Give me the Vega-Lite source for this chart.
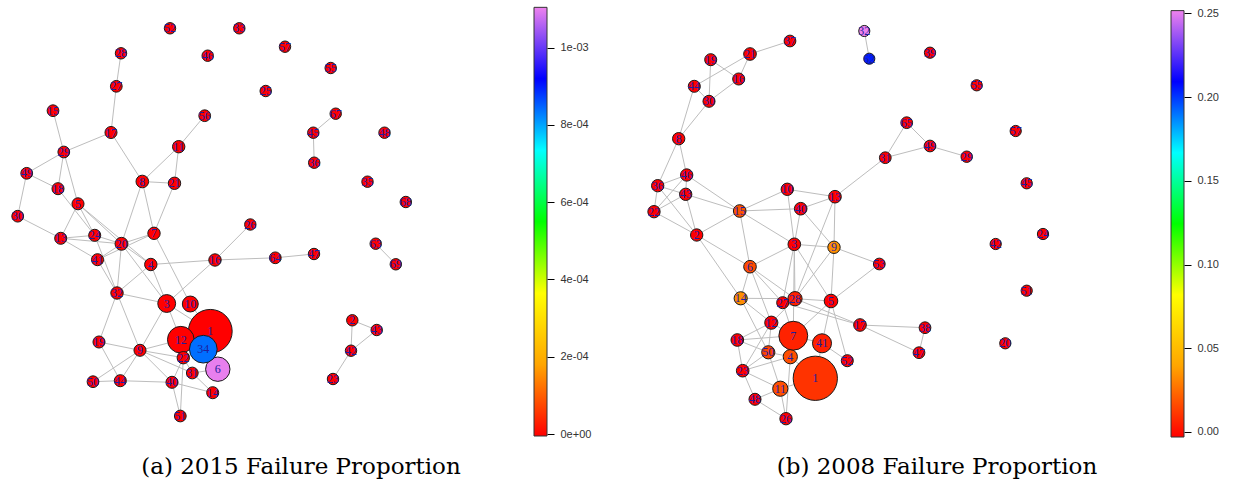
{
"$schema": "https://vega.github.io/schema/vega-lite/v6.json",
"padding": 0,
"bounds": "flush",
"spacing": 0,
"background": "white",
"config": {"view": {"stroke": null}},
"resolve": {"scale": {"color": "independent", "size": "independent", "x": "independent", "y": "independent"}},
"datasets": {
"nodesA": [
{"id":1,"x":210.3,"y":331.3,"c":13.2,"f":0},
{"id":2,"x":352.3,"y":320.3,"c":0.9,"f":0},
{"id":3,"x":166.7,"y":303.5,"c":2.2,"f":0},
{"id":4,"x":150.8,"y":264.5,"c":1.06,"f":0},
{"id":5,"x":78,"y":203.8,"c":1,"f":0},
{"id":6,"x":217.8,"y":369.2,"c":4.1,"f":0.0011},
{"id":7,"x":154,"y":233.3,"c":1.06,"f":0},
{"id":8,"x":142.3,"y":181.5,"c":1.1,"f":0},
{"id":9,"x":140,"y":350.3,"c":1,"f":0},
{"id":10,"x":190.3,"y":304,"c":1.75,"f":0},
{"id":11,"x":178.7,"y":146.7,"c":1.06,"f":0},
{"id":12,"x":180.8,"y":339.7,"c":4.9,"f":0},
{"id":13,"x":60.7,"y":238.3,"c":1,"f":0},
{"id":14,"x":212.7,"y":392.7,"c":1,"f":0},
{"id":15,"x":53,"y":110.7,"c":0.95,"f":0},
{"id":16,"x":215,"y":260,"c":1.06,"f":0},
{"id":17,"x":111,"y":132.5,"c":1,"f":0},
{"id":18,"x":58,"y":188.7,"c":1,"f":0},
{"id":19,"x":99,"y":342,"c":1,"f":0},
{"id":20,"x":121.5,"y":243.8,"c":1.15,"f":0},
{"id":21,"x":174.5,"y":183.3,"c":1.06,"f":0},
{"id":22,"x":183.3,"y":357.7,"c":1.06,"f":0},
{"id":23,"x":333,"y":379,"c":0.9,"f":0},
{"id":24,"x":94.7,"y":235.3,"c":1,"f":0},
{"id":25,"x":265.7,"y":91,"c":0.9,"f":0},
{"id":26,"x":250.3,"y":224.5,"c":0.9,"f":0},
{"id":27,"x":116.3,"y":86.3,"c":0.95,"f":0},
{"id":28,"x":121,"y":53.3,"c":0.9,"f":0},
{"id":29,"x":63.8,"y":152,"c":0.95,"f":0},
{"id":30,"x":17.7,"y":216.2,"c":0.95,"f":0},
{"id":31,"x":192.3,"y":373,"c":0.95,"f":0},
{"id":32,"x":117,"y":293,"c":1.06,"f":0},
{"id":33,"x":239.3,"y":28.3,"c":0.9,"f":0},
{"id":34,"x":203.3,"y":349.2,"c":5.3,"f":0.00084},
{"id":35,"x":367.5,"y":181.7,"c":0.9,"f":0},
{"id":36,"x":314.2,"y":162.7,"c":0.9,"f":0},
{"id":40,"x":172,"y":382.3,"c":1,"f":0},
{"id":41,"x":97.5,"y":259.7,"c":1,"f":0},
{"id":42,"x":351,"y":350.7,"c":0.9,"f":0},
{"id":43,"x":376.7,"y":330,"c":0.9,"f":0},
{"id":44,"x":120.3,"y":380.7,"c":1,"f":0},
{"id":45,"x":313.3,"y":132.7,"c":0.9,"f":0},
{"id":46,"x":207.7,"y":55.7,"c":0.9,"f":0},
{"id":47,"x":314,"y":254,"c":0.9,"f":0},
{"id":48,"x":384.5,"y":132.7,"c":0.9,"f":0},
{"id":49,"x":26.7,"y":173.3,"c":0.95,"f":0},
{"id":50,"x":93,"y":381.7,"c":0.95,"f":0},
{"id":51,"x":180.3,"y":416,"c":0.95,"f":0},
{"id":52,"x":170,"y":28.3,"c":0.9,"f":0},
{"id":55,"x":330.7,"y":68,"c":0.9,"f":0},
{"id":56,"x":204.7,"y":115.7,"c":0.95,"f":0},
{"id":57,"x":285,"y":46.7,"c":0.9,"f":0},
{"id":63,"x":375.7,"y":243.7,"c":0.9,"f":0},
{"id":64,"x":275.3,"y":257.8,"c":0.95,"f":0},
{"id":67,"x":335.7,"y":113.7,"c":0.9,"f":0},
{"id":68,"x":405.8,"y":202,"c":0.9,"f":0},
{"id":69,"x":395.8,"y":264.3,"c":0.9,"f":0}
],
"edgesA": [
{"s":28,"t":27},{"s":27,"t":17},{"s":15,"t":29},{"s":29,"t":17},{"s":17,"t":8},{"s":56,"t":11},{"s":11,"t":8},{"s":11,"t":21},{"s":8,"t":21},{"s":67,"t":45},{"s":45,"t":36},{"s":29,"t":49},{"s":29,"t":18},{"s":29,"t":5},{"s":49,"t":18},{"s":49,"t":30},{"s":18,"t":24},{"s":5,"t":13},{"s":5,"t":24},{"s":5,"t":20},{"s":5,"t":4},{"s":30,"t":13},{"s":13,"t":24},{"s":13,"t":20},{"s":24,"t":20},{"s":13,"t":41},{"s":24,"t":32},{"s":41,"t":20},{"s":41,"t":32},{"s":20,"t":32},{"s":20,"t":7},{"s":20,"t":4},{"s":20,"t":3},{"s":8,"t":20},{"s":8,"t":7},{"s":21,"t":7},{"s":7,"t":41},{"s":7,"t":10},{"s":4,"t":16},{"s":16,"t":26},{"s":16,"t":64},{"s":64,"t":47},{"s":16,"t":3},{"s":4,"t":32},{"s":4,"t":3},{"s":32,"t":3},{"s":32,"t":19},{"s":32,"t":9},{"s":3,"t":9},{"s":3,"t":1},{"s":10,"t":1},{"s":3,"t":12},{"s":63,"t":69},{"s":2,"t":43},{"s":2,"t":42},{"s":43,"t":42},{"s":42,"t":23},{"s":19,"t":9},{"s":19,"t":44},{"s":9,"t":50},{"s":9,"t":44},{"s":9,"t":22},{"s":9,"t":12},{"s":9,"t":40},{"s":9,"t":31},{"s":50,"t":44},{"s":44,"t":40},{"s":40,"t":22},{"s":40,"t":51},{"s":22,"t":51},{"s":40,"t":14},{"s":31,"t":14},{"s":22,"t":31},{"s":12,"t":1},{"s":34,"t":1},{"s":6,"t":34},{"s":22,"t":34},{"s":31,"t":6}
],
"nodesB": [
{"id":1,"x":815.3,"y":378.3,"c":13.5,"f":0.013},
{"id":2,"x":696.7,"y":235,"c":1.05,"f":0},
{"id":3,"x":794.3,"y":244.3,"c":1.1,"f":0},
{"id":4,"x":790.3,"y":356.7,"c":1.4,"f":0.02},
{"id":5,"x":831,"y":301,"c":1.28,"f":0},
{"id":6,"x":750,"y":266.7,"c":1.1,"f":0.019},
{"id":7,"x":793.3,"y":335.7,"c":5.75,"f":0.0086},
{"id":8,"x":678.7,"y":138.7,"c":1.05,"f":0},
{"id":9,"x":834,"y":247.3,"c":1.06,"f":0.036},
{"id":10,"x":787.3,"y":189.3,"c":1.06,"f":0},
{"id":11,"x":780.3,"y":388.7,"c":1.6,"f":0.02},
{"id":12,"x":771.3,"y":322.7,"c":1.2,"f":0},
{"id":13,"x":835,"y":196.7,"c":1.1,"f":0},
{"id":14,"x":740.7,"y":298.3,"c":1.2,"f":0.036},
{"id":15,"x":739.7,"y":211,"c":1.1,"f":0.021},
{"id":16,"x":738.7,"y":79,"c":1,"f":0},
{"id":17,"x":860,"y":325,"c":1.1,"f":0},
{"id":18,"x":737.3,"y":340,"c":1.1,"f":0},
{"id":19,"x":710.7,"y":59.7,"c":1,"f":0},
{"id":20,"x":1005.3,"y":343.3,"c":0.87,"f":0},
{"id":21,"x":750,"y":54,"c":1.1,"f":0},
{"id":22,"x":654,"y":211.7,"c":1.05,"f":0},
{"id":23,"x":742.7,"y":370.7,"c":1.1,"f":0},
{"id":24,"x":1043,"y":234,"c":0.87,"f":0},
{"id":26,"x":786,"y":418.7,"c":1.05,"f":0},
{"id":27,"x":782.7,"y":302.7,"c":1,"f":0},
{"id":28,"x":795,"y":298.7,"c":1.4,"f":0.008},
{"id":29,"x":966.7,"y":156.7,"c":0.9,"f":0},
{"id":30,"x":709,"y":101.3,"c":1,"f":0},
{"id":31,"x":885.3,"y":157.7,"c":0.95,"f":0},
{"id":32,"x":864.3,"y":31,"c":0.85,"f":0.2516},
{"id":36,"x":657.7,"y":185.7,"c":1.05,"f":0},
{"id":37,"x":790,"y":41,"c":0.95,"f":0},
{"id":38,"x":925,"y":327.7,"c":0.95,"f":0},
{"id":39,"x":930,"y":52.7,"c":0.87,"f":0},
{"id":40,"x":800.7,"y":208.7,"c":1.1,"f":0},
{"id":41,"x":822,"y":343.3,"c":2.5,"f":0.008},
{"id":42,"x":995.7,"y":244,"c":0.87,"f":0},
{"id":43,"x":685.7,"y":194.3,"c":1.05,"f":0},
{"id":44,"x":694.3,"y":86.3,"c":1,"f":0},
{"id":45,"x":1026.7,"y":183.3,"c":0.87,"f":0},
{"id":46,"x":686.7,"y":175,"c":1.05,"f":0},
{"id":47,"x":919,"y":352.7,"c":0.95,"f":0},
{"id":48,"x":755,"y":399.3,"c":1,"f":0},
{"id":49,"x":930,"y":146,"c":0.95,"f":0},
{"id":50,"x":768.3,"y":352.3,"c":1.2,"f":0.017},
{"id":51,"x":1026.7,"y":290.7,"c":0.87,"f":0},
{"id":52,"x":847.3,"y":360.7,"c":1,"f":0},
{"id":53,"x":879.3,"y":264,"c":0.95,"f":0},
{"id":55,"x":976.7,"y":85.3,"c":0.87,"f":0},
{"id":57,"x":1015.7,"y":131,"c":0.87,"f":0},
{"id":62,"x":869.3,"y":58.7,"c":0.85,"f":0.205},
{"id":65,"x":906.7,"y":122.7,"c":0.95,"f":0}
],
"edgesB": [
{"s":32,"t":62},{"s":37,"t":21},{"s":21,"t":44},{"s":21,"t":16},{"s":19,"t":16},{"s":19,"t":30},{"s":44,"t":30},{"s":30,"t":16},{"s":44,"t":8},{"s":30,"t":8},{"s":8,"t":36},{"s":8,"t":46},{"s":65,"t":31},{"s":65,"t":49},{"s":31,"t":49},{"s":49,"t":29},{"s":31,"t":13},{"s":46,"t":36},{"s":46,"t":43},{"s":46,"t":22},{"s":36,"t":43},{"s":36,"t":22},{"s":43,"t":22},{"s":36,"t":2},{"s":43,"t":2},{"s":46,"t":15},{"s":43,"t":15},{"s":22,"t":2},{"s":2,"t":15},{"s":15,"t":10},{"s":15,"t":40},{"s":15,"t":3},{"s":15,"t":6},{"s":10,"t":13},{"s":10,"t":3},{"s":40,"t":13},{"s":40,"t":3},{"s":40,"t":9},{"s":13,"t":9},{"s":13,"t":28},{"s":3,"t":9},{"s":9,"t":53},{"s":3,"t":6},{"s":2,"t":6},{"s":2,"t":14},{"s":6,"t":14},{"s":6,"t":28},{"s":6,"t":12},{"s":6,"t":27},{"s":3,"t":28},{"s":3,"t":7},{"s":3,"t":5},{"s":3,"t":27},{"s":9,"t":5},{"s":9,"t":28},{"s":5,"t":53},{"s":5,"t":28},{"s":5,"t":41},{"s":5,"t":7},{"s":5,"t":52},{"s":14,"t":28},{"s":14,"t":12},{"s":14,"t":50},{"s":28,"t":17},{"s":27,"t":17},{"s":28,"t":12},{"s":27,"t":7},{"s":17,"t":38},{"s":17,"t":47},{"s":38,"t":47},{"s":12,"t":18},{"s":12,"t":23},{"s":12,"t":50},{"s":18,"t":50},{"s":18,"t":23},{"s":18,"t":7},{"s":50,"t":4},{"s":50,"t":11},{"s":50,"t":23},{"s":23,"t":48},{"s":23,"t":4},{"s":23,"t":11},{"s":48,"t":11},{"s":48,"t":26},{"s":26,"t":11},{"s":26,"t":4},{"s":7,"t":41},{"s":7,"t":4},{"s":41,"t":1},{"s":41,"t":52},{"s":4,"t":1},{"s":11,"t":1},{"s":12,"t":7}
]
},
"hconcat": [
{
"width": 534, "height": 440,
"title": {"text": "(a) 2015 Failure Proportion", "orient": "bottom", "anchor": "middle", "dx": 34, "offset": 16, "baseline": "top", "font": "DejaVu Serif", "fontSize": 23, "fontWeight": "normal", "color": "#000000"},
"layer": [
{"data": {"name": "edgesA"},
"transform": [
{"lookup": "s", "from": {"data": {"name": "nodesA"}, "key": "id", "fields": ["x", "y"]}, "as": ["xs", "ys"]},
{"lookup": "t", "from": {"data": {"name": "nodesA"}, "key": "id", "fields": ["x", "y"]}, "as": ["xt", "yt"]}
],
"mark": {"type": "rule", "color": "#BDBDBD", "strokeWidth": 1},
"encoding": {
"x": {"field": "xs", "type": "quantitative", "scale": {"domain": [0, 534], "nice": false, "zero": false}, "axis": null},
"y": {"field": "ys", "type": "quantitative", "scale": {"domain": [0, 440], "nice": false, "zero": false, "reverse": true}, "axis": null},
"x2": {"field": "xt"}, "y2": {"field": "yt"}
}},
{"data": {"name": "nodesA"},
"mark": {"type": "circle", "opacity": 1, "stroke": "#1a1a1a", "strokeWidth": 1},
"encoding": {
"x": {"field": "x", "type": "quantitative", "axis": null},
"y": {"field": "y", "type": "quantitative", "axis": null},
"size": {"field": "c", "type": "quantitative", "scale": {"domain": [0, 1], "range": [0, 145]}, "legend": null},
"color": {"field": "f", "type": "quantitative", "legend": null, "scale": {"interpolate": "rgb", "domain": [0, 0.00018408, 0.00036817, 0.00055225, 0.00073633, 0.00092042, 0.0011045], "range": ["#FF0000", "#FFA500", "#FFFF00", "#00FF00", "#00FFFF", "#0000FF", "#EE82EE"]}}
}},
{"data": {"name": "nodesA"},
"mark": {"type": "text", "font": "Liberation Serif", "fontSize": 12, "color": "#1E1EA0", "align": "center", "baseline": "middle"},
"encoding": {
"x": {"field": "x", "type": "quantitative", "axis": null},
"y": {"field": "y", "type": "quantitative", "axis": null},
"text": {"field": "id"}
}}
]
},
{
"width": 13, "height": 440,
"data": {"values": [{"lo": -0.0000052, "hi": 0.0011045}]},
"mark": {"type": "rect", "stroke": "#333333", "strokeWidth": 1,
"fill": {"gradient": "linear", "x1": 0, "y1": 1, "x2": 0, "y2": 0, "stops": [
{"offset": 0, "color": "#FF0000"}, {"offset": 0.1667, "color": "#FFA500"}, {"offset": 0.3333, "color": "#FFFF00"}, {"offset": 0.5, "color": "#00FF00"}, {"offset": 0.6667, "color": "#00FFFF"}, {"offset": 0.8333, "color": "#0000FF"}, {"offset": 1, "color": "#EE82EE"}]}},
"encoding": {
"y": {"field": "hi", "type": "quantitative", "scale": {"domain": [-0.00001553, 0.0011235], "nice": false, "zero": false},
"axis": {"orient": "right", "values": [0, 0.0002, 0.0004, 0.0006, 0.0008, 0.001], "labelExpr": "datum.value < 1e-9 ? '0e+00' : datum.value > 9e-4 ? '1e-03' : format(datum.value*1e4, '.0f') + 'e-04'", "domain": false, "grid": false, "ticks": true, "tickSize": 7, "tickColor": "#000000", "labelPadding": 6, "labelFont": "Liberation Sans", "labelFontSize": 11, "labelColor": "#333333", "title": null}},
"y2": {"field": "lo"}
}
},
{
"width": 624, "height": 440,
"title": {"text": "(b) 2008 Failure Proportion", "orient": "bottom", "anchor": "middle", "dx": 78, "offset": 16, "baseline": "top", "font": "DejaVu Serif", "fontSize": 23, "fontWeight": "normal", "color": "#000000"},
"layer": [
{"data": {"name": "edgesB"},
"transform": [
{"lookup": "s", "from": {"data": {"name": "nodesB"}, "key": "id", "fields": ["x", "y"]}, "as": ["xs", "ys"]},
{"lookup": "t", "from": {"data": {"name": "nodesB"}, "key": "id", "fields": ["x", "y"]}, "as": ["xt", "yt"]}
],
"mark": {"type": "rule", "color": "#BDBDBD", "strokeWidth": 1},
"encoding": {
"x": {"field": "xs", "type": "quantitative", "scale": {"domain": [547, 1171], "nice": false, "zero": false}, "axis": null},
"y": {"field": "ys", "type": "quantitative", "scale": {"domain": [0, 440], "nice": false, "zero": false, "reverse": true}, "axis": null},
"x2": {"field": "xt"}, "y2": {"field": "yt"}
}},
{"data": {"name": "nodesB"},
"mark": {"type": "circle", "opacity": 1, "stroke": "#1a1a1a", "strokeWidth": 1},
"encoding": {
"x": {"field": "x", "type": "quantitative", "axis": null},
"y": {"field": "y", "type": "quantitative", "axis": null},
"size": {"field": "c", "type": "quantitative", "scale": {"domain": [0, 1], "range": [0, 145]}, "legend": null},
"color": {"field": "f", "type": "quantitative", "legend": null, "scale": {"interpolate": "rgb", "domain": [0, 0.041933, 0.083867, 0.1258, 0.16773, 0.20967, 0.2516], "range": ["#FF0000", "#FFA500", "#FFFF00", "#00FF00", "#00FFFF", "#0000FF", "#EE82EE"]}}
}},
{"data": {"name": "nodesB"},
"mark": {"type": "text", "font": "Liberation Serif", "fontSize": 12, "color": "#1E1EA0", "align": "center", "baseline": "middle"},
"encoding": {
"x": {"field": "x", "type": "quantitative", "axis": null},
"y": {"field": "y", "type": "quantitative", "axis": null},
"text": {"field": "id"}
}}
]
},
{
"width": 13, "height": 440,
"data": {"values": [{"lo": -0.003, "hi": 0.2516}]},
"mark": {"type": "rect", "stroke": "#333333", "strokeWidth": 1,
"fill": {"gradient": "linear", "x1": 0, "y1": 1, "x2": 0, "y2": 0, "stops": [
{"offset": 0, "color": "#FF0000"}, {"offset": 0.1667, "color": "#FFA500"}, {"offset": 0.3333, "color": "#FFFF00"}, {"offset": 0.5, "color": "#00FF00"}, {"offset": 0.6667, "color": "#00FFFF"}, {"offset": 0.8333, "color": "#0000FF"}, {"offset": 1, "color": "#EE82EE"}]}},
"encoding": {
"y": {"field": "hi", "type": "quantitative", "scale": {"domain": [-0.004777, 0.25794], "nice": false, "zero": false},
"axis": {"orient": "right", "values": [0, 0.05, 0.1, 0.15, 0.2, 0.25], "format": ".2f", "domain": false, "grid": false, "ticks": true, "tickSize": 7, "tickColor": "#000000", "labelPadding": 6, "labelFont": "Liberation Sans", "labelFontSize": 11, "labelColor": "#333333", "title": null}},
"y2": {"field": "lo"}
}
}
]
}
